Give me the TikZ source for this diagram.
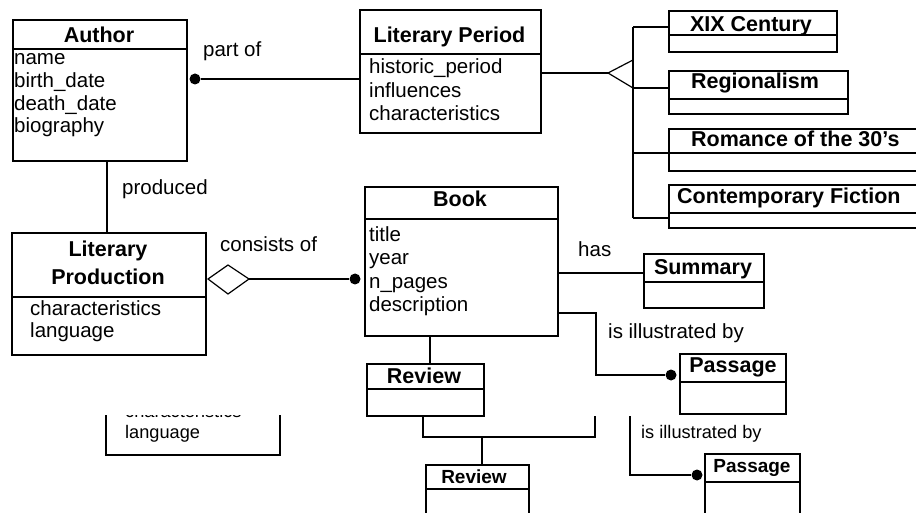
\documentclass[tikz,border=0pt]{standalone}
\usepackage{fontspec}
\setmainfont{Liberation Sans}
\usetikzlibrary{calc}
\newcommand\clsTitle{\fontsize{21.5}{24}\selectfont\bfseries}
\newcommand\clsAttr{\fontsize{20.5}{23}\selectfont}
\newcommand\smTitle{\fontsize{19}{22}\selectfont\bfseries}
\newcommand\smAttr{\fontsize{18.2}{21}\selectfont}

\tikzset{
  umlbox/.style={draw, rectangle, inner sep=0pt, anchor=north west, line width=1.7pt},
  divider/.style={line width=1.7pt},
  ttl/.style={anchor=base, inner sep=0pt, font=\clsTitle},
  ttlw/.style={anchor=base west, inner sep=0pt, font=\clsTitle},
  attr/.style={anchor=base west, inner sep=0pt, font=\clsAttr},
  lbl/.style={anchor=base west, inner sep=0pt, font=\clsAttr},
  conn/.style={line width=1.7pt},
  joint/.style={circle, fill, inner sep=0pt, minimum size=11pt},
  hollow/.style={line width=1.2pt},
}

\begin{document}
\begin{tikzpicture}[x=1pt, y=-1pt, line join=miter]
\useasboundingbox (0,0) rectangle (916,513);
\clip (0,0) rectangle (916,513);
\fill[white] (0,0) rectangle (916,513);

% ---------- Author ----------
\node[umlbox, minimum width=174pt, minimum height=141pt] (author) at (12,19) {};
\draw[divider] ([yshift=-30pt]author.north west) -- ([yshift=-30pt]author.north east);
\node[ttl] (authorT) at (99,43) {Author};
\node[attr] (au1) at (14,65) {name};
\node[attr] (au2) at (14,88) {birth\_date};
\node[attr] (au3) at (14,111) {death\_date};
\node[attr] (au4) at (14,133) {biography};

% ---------- Literary Period ----------
\node[umlbox, minimum width=181pt, minimum height=123pt] (period) at (359,9) {};
\draw[divider] ([yshift=-45pt]period.north west) -- ([yshift=-45pt]period.north east);
\node[ttl] (periodT) at (449.5,43) {Literary Period};
\node[attr] (pe1) at (369,74) {historic\_period};
\node[attr] (pe2) at (369,98) {influences};
\node[attr] (pe3) at (369,121) {characteristics};

% ---------- Subclasses of the period ----------
\node[umlbox, minimum width=168pt, minimum height=41pt] (xix) at (668,10) {};
\draw[divider] ([yshift=-25pt]xix.north west) -- ([yshift=-25pt]xix.north east);
\node[ttl] (xixT) at (751,32) {XIX Century};

\node[umlbox, minimum width=179pt, minimum height=43pt] (region) at (668,70) {};
\draw[divider] ([yshift=-29pt]region.north west) -- ([yshift=-29pt]region.north east);
\node[ttl] (regionT) at (755,89) {Regionalism};

\node[umlbox, minimum width=260pt, minimum height=42pt] (romance) at (668,128) {};
\draw[divider] ([yshift=-25pt]romance.north west) -- ([yshift=-25pt]romance.north east);
\node[ttlw] (romanceT) at (691,147) {Romance of the 30's};

\node[umlbox, minimum width=260pt, minimum height=43pt] (contemp) at (668,184) {};
\draw[divider] ([yshift=-29pt]contemp.north west) -- ([yshift=-29pt]contemp.north east);
\node[ttlw] (contempT) at (677,204) {Contemporary Fiction};

% generalization: hollow triangle and spine
\coordinate (triApex) at (608,73);
\coordinate (triTop) at (633,60);
\coordinate (triBot) at (633,88);
\coordinate (spTop) at (633,27);
\coordinate (spRom) at (633,153);
\coordinate (spBot) at (633,218);
\draw[conn] (period.east |- triApex) -- (triApex);
\draw[hollow] (triTop) -- (triApex) -- (triBot);
\draw[conn] (spTop) -- (spBot);
\draw[conn] (spTop) -- (xix.west |- spTop);
\draw[conn] (triBot) -- (region.west |- triBot);
\draw[conn] (spRom) -- (romance.west |- spRom);
\draw[conn] (spBot) -- (contemp.west |- spBot);

% Author -- part of -- Literary Period
\node[joint] (dotA) at (195,79) {};
\draw[conn] (dotA) -- (period.west |- dotA);
\node[lbl] (partof) at (203,57) {part of};

% ---------- Literary Production ----------
\node[umlbox, minimum width=194pt, minimum height=122pt] (litprod) at (11,232) {};
\draw[divider] ([yshift=-65pt]litprod.north west) -- ([yshift=-65pt]litprod.north east);
\node[ttl] (litprodT1) at (108,257) {Literary};
\node[ttl] (litprodT2) at (108,284) {Production};
\node[attr] (lp1) at (30,316) {characteristics};
\node[attr] (lp2) at (30,337) {language};

\coordinate (prodX) at (107,0);
\draw[conn] (author.south -| prodX) -- (litprod.north -| prodX);
\node[lbl] (produced) at (122,195) {produced};

% ---------- Book ----------
\node[umlbox, minimum width=193pt, minimum height=149pt] (book) at (364,186) {};
\draw[divider] ([yshift=-33pt]book.north west) -- ([yshift=-33pt]book.north east);
\node[ttl] (bookT) at (460,207) {Book};
\node[attr] (bk1) at (369,242) {title};
\node[attr] (bk2) at (369,265) {year};
\node[attr] (bk3) at (369,288) {n\_pages};
\node[attr] (bk4) at (369,311) {description};

% aggregation: hollow diamond
\coordinate (dmL) at (208,279);
\coordinate (dmT) at (228,265);
\coordinate (dmR) at (249,279);
\coordinate (dmB) at (228,294);
\draw[hollow] (dmL) -- (dmT) -- (dmR) -- (dmB) -- cycle;
\node[joint] (dotB) at (355,279) {};
\draw[conn] (dmR) -- (dotB);
\node[lbl] (consists) at (220,252) {consists of};

% ---------- Summary ----------
\node[umlbox, minimum width=120pt, minimum height=54pt] (summary) at (643,253) {};
\draw[divider] ([yshift=-29pt]summary.north west) -- ([yshift=-29pt]summary.north east);
\node[ttl] (summaryT) at (703,274) {Summary};
\coordinate (hasStart) at (557,273);
\draw[conn] (hasStart) -- (summary.west |- hasStart);
\node[lbl] (has) at (578,257) {has};

% ---------- Passage ----------
\node[umlbox, minimum width=106pt, minimum height=60pt] (passage) at (679,353) {};
\draw[divider] ([yshift=-29pt]passage.north west) -- ([yshift=-29pt]passage.north east);
\node[ttl] (passageT) at (733,372) {Passage};
\coordinate (illStart) at (557,313);
\coordinate (illBend) at (596,375);
\node[joint] (dotC) at (671,375) {};
\draw[conn] (illStart) -| (illBend) -- (dotC);
\node[lbl] (ill1) at (608,338) {is illustrated by};

% ---------- Review ----------
\node[umlbox, minimum width=117pt, minimum height=52pt] (review) at (366,363) {};
\draw[divider] ([yshift=-26pt]review.north west) -- ([yshift=-26pt]review.north east);
\node[ttl] (reviewT) at (424,383) {Review};
\coordinate (revX) at (430,0);
\draw[conn] (book.south -| revX) -- (review.north -| revX);

% ---------- lower, smaller copies ----------
\begin{scope}
  \clip (100,415) rectangle (300,470);
  \node[attr, font=\smAttr] (frag1) at (125,417.5) {characteristics};
\end{scope}
\node[attr, font=\smAttr] (frag2) at (125,438) {language};
\draw[conn] (106,415) -- (106,455) -- (280,455) -- (280,415);

\coordinate (brL) at (423,416);
\coordinate (brMid) at (482,437);
\coordinate (brR) at (595,416);
\draw[conn] (brL) |- (brMid) -| (brR);

\node[umlbox, minimum width=103pt, minimum height=70pt] (review2) at (425,464) {};
\draw[divider] ([yshift=-25pt]review2.north west) -- ([yshift=-25pt]review2.north east);
\node[ttl, font=\smTitle] (review2T) at (474,483) {Review};
\draw[conn] (brMid) -- (review2.north -| brMid);

\node[umlbox, minimum width=95pt, minimum height=70pt] (passage2) at (704,453) {};
\draw[divider] ([yshift=-29pt]passage2.north west) -- ([yshift=-29pt]passage2.north east);
\node[ttl, font=\smTitle] (passage2T) at (752,472) {Passage};
\coordinate (ill2Start) at (630,416);
\node[joint] (dotD) at (697,475) {};
\draw[conn] (ill2Start) |- (dotD);
\node[lbl, font=\smAttr] (ill2) at (641,438) {is illustrated by};

\end{tikzpicture}
\end{document}
